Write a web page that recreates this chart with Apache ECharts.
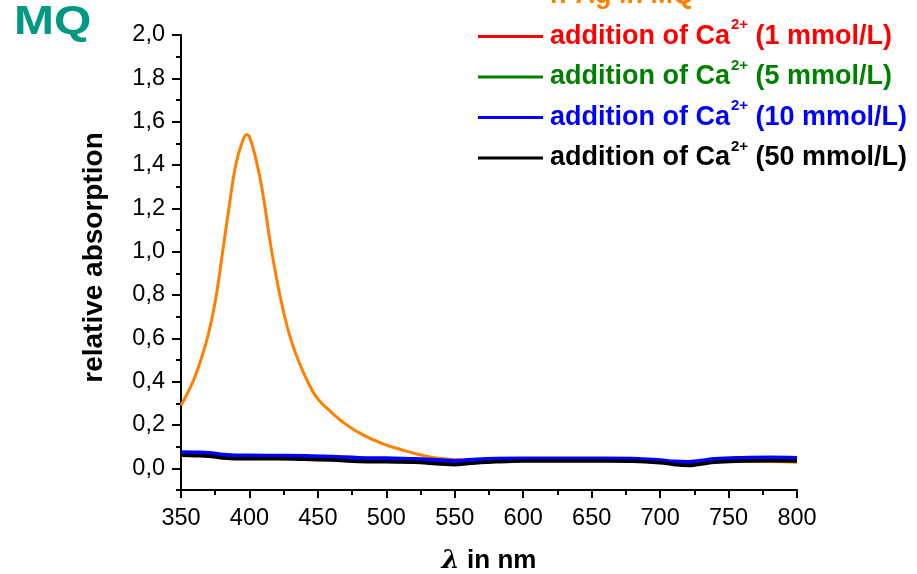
<!DOCTYPE html>
<html lang="en">
<head>
    <meta charset="UTF-8">
    <title>MQ absorption</title>
    <style>
        html, body {margin: 0; padding: 0; background: #ffffff;}
        #main {width: 917px; height: 574px;}
    </style>
</head>
<body>
<div id="main"></div>
<script src="https://cdn.jsdelivr.net/npm/echarts@6/dist/echarts.min.js"></script>
<script type="text/javascript">
// wavelengths (nm) of the silver peak curve
var agWave = [350, 355, 360, 365, 370, 375, 380, 385, 390, 395, 398, 400, 405, 410, 415, 420, 425, 430, 435, 440,
    445, 450, 460, 470, 480, 490, 500, 510, 520, 530, 540, 550, 560, 580, 600, 620, 640, 660, 680, 700,
    710, 720, 730, 740, 760, 780, 800];
var agAbs = [0.29, 0.35, 0.42, 0.51, 0.62, 0.77, 0.98, 1.20, 1.40, 1.51, 1.54, 1.53, 1.42, 1.26, 1.05, 0.87, 0.72, 0.60, 0.51, 0.435,
    0.37, 0.32, 0.258, 0.205, 0.165, 0.133, 0.107, 0.088, 0.07, 0.055, 0.045, 0.04, 0.038, 0.038, 0.037, 0.037, 0.037, 0.037, 0.036, 0.028,
    0.02, 0.016, 0.022, 0.03, 0.032, 0.032, 0.028];

// wavelengths (nm) of the Ca2+ curves
var caWave = [350, 360, 370, 380, 390, 400, 420, 440, 460, 480, 500, 520, 540, 550, 560, 580, 600, 620, 640, 660,
    680, 700, 710, 720, 730, 740, 760, 780, 800];
var ca1 = [0.063, 0.061, 0.059, 0.051, 0.047, 0.047, 0.047, 0.045, 0.041, 0.035, 0.033, 0.031, 0.023, 0.020, 0.025, 0.033, 0.037, 0.037, 0.037, 0.037,
    0.036, 0.029, 0.021, 0.016, 0.023, 0.031, 0.037, 0.038, 0.037];
var ca5 = [0.064, 0.062, 0.058, 0.050, 0.046, 0.046, 0.046, 0.044, 0.040, 0.034, 0.032, 0.030, 0.022, 0.019, 0.024, 0.032, 0.036, 0.036, 0.036, 0.036,
    0.035, 0.028, 0.020, 0.015, 0.022, 0.030, 0.036, 0.037, 0.036];
var ca10 = [0.073, 0.072, 0.070, 0.062, 0.058, 0.058, 0.057, 0.056, 0.052, 0.047, 0.045, 0.042, 0.036, 0.033, 0.037, 0.043, 0.044, 0.044, 0.044, 0.044,
    0.043, 0.036, 0.030, 0.028, 0.034, 0.042, 0.047, 0.049, 0.047];
var ca50 = [0.060, 0.058, 0.056, 0.048, 0.044, 0.044, 0.044, 0.042, 0.038, 0.032, 0.030, 0.028, 0.020, 0.017, 0.022, 0.030, 0.034, 0.034, 0.034, 0.034,
    0.033, 0.026, 0.018, 0.013, 0.020, 0.028, 0.034, 0.035, 0.034];

var yLabels = [0, 0.2, 0.4, 0.6, 0.8, 1.0, 1.2, 1.4, 1.6, 1.8, 2.0];
var yMinor = [-0.1, 0.1, 0.3, 0.5, 0.7, 0.9, 1.1, 1.3, 1.5, 1.7, 1.9];

var names = ['n-Ag in MQ', 'addition of Ca2+ (1 mmol/L)', 'addition of Ca2+ (5 mmol/L)',
    'addition of Ca2+ (10 mmol/L)', 'addition of Ca2+ (50 mmol/L)'];
var conc = ['', '1', '5', '10', '50'];
var colors = ['#ff8000', '#ff0000', '#008000', '#0000ff', '#000000'];
var keys = ['o', 'r', 'g', 'b', 'k'];

function pairs(xs, ys) {
    return xs.map(function (x, i) { return [x, ys[i]]; });
}

var rich = {};
keys.forEach(function (k, i) {
    rich[k] = {color: colors[i], fontSize: 27, fontWeight: 'bold', fontFamily: 'Liberation Sans, Arial', lineHeight: 41};
    rich[k + 's'] = {color: colors[i], fontSize: 15, fontWeight: 'bold', fontFamily: 'Liberation Sans, Arial',
        lineHeight: 15, padding: [0, 0, 23, 1]};
});
// the first (cut off) entry sits a little higher
rich.o.padding = [0, 0, 6, 0];

var chart = echarts.init(document.getElementById('main'));
chart.setOption({
    animation: false,
    graphic: [{
        type: 'text',
        left: 14,
        top: 3,
        scaleX: 1.2,
        style: {text: 'MQ', fill: '#00997f', font: 'bold 40px "Liberation Sans", Arial'}
    }],
    legend: {
        orient: 'vertical',
        left: 478,
        top: -18,
        padding: 0,
        itemGap: 2.5,
        itemWidth: 65,
        itemHeight: 3,
        icon: 'rect',
        data: names,
        formatter: function (name) {
            var i = names.indexOf(name);
            var k = keys[i];
            if (i === 0) return '{' + k + '|' + name + '}';
            return '{' + k + '|addition of Ca}{' + k + 's|2+}{' + k + '| (' + conc[i] + ' mmol/L)}';
        },
        textStyle: {rich: rich, padding: [0, 0, 0, 2]}
    },
    grid: {left: 181, right: 120, top: 35, bottom: 84, containLabel: false, outerBoundsMode: 'none'},
    xAxis: {
        type: 'value',
        min: 350,
        max: 800,
        interval: 50,
        name: '{l|λ} in nm',
        nameLocation: 'middle',
        nameGap: 58,
        nameTextStyle: {
            color: '#000', fontSize: 26, fontWeight: 'bold', fontFamily: 'Liberation Sans, Arial',
            rich: {l: {fontSize: 26, fontWeight: 'bold', fontStyle: 'italic', fontFamily: 'DejaVu Serif', color: '#000'}}
        },
        axisLine: {onZero: false, lineStyle: {color: '#000', width: 2}},
        axisTick: {length: 8, lineStyle: {color: '#000', width: 2}},
        minorTick: {show: true, splitNumber: 2, length: 5, lineStyle: {color: '#000', width: 2}},
        axisLabel: {color: '#000', fontSize: 23.5, fontFamily: 'Liberation Sans, Arial', margin: 17},
        splitLine: {show: false}
    },
    yAxis: [{
        type: 'value',
        min: -0.1,
        max: 2.0,
        position: 'left',
        name: 'relative absorption',
        nameLocation: 'middle',
        nameGap: 73,
        nameTextStyle: {color: '#000', fontSize: 28, fontWeight: 'bold', fontFamily: 'Liberation Sans, Arial',
            padding: [0, 0, 0, 10]},
        axisLine: {show: true, onZero: false, lineStyle: {color: '#000', width: 2}},
        axisTick: {show: true, length: 9, customValues: yLabels, lineStyle: {color: '#000', width: 2}},
        axisLabel: {
            color: '#000', fontSize: 23.5, fontFamily: 'Liberation Sans, Arial', margin: 16,
            customValues: yLabels,
            formatter: function (v) { return v.toFixed(1).replace('.', ','); }
        },
        splitLine: {show: false}
    }, {
        type: 'value',
        min: -0.1,
        max: 2.0,
        position: 'left',
        axisLine: {show: false, onZero: false},
        axisTick: {show: true, length: 5, customValues: yMinor, lineStyle: {color: '#000', width: 2}},
        axisLabel: {show: false, customValues: yMinor},
        splitLine: {show: false}
    }],
    series: [
        {name: names[0], type: 'line', data: pairs(agWave, agAbs), showSymbol: false, smooth: 0.5,
            lineStyle: {color: colors[0], width: 3}, itemStyle: {color: colors[0]}},
        {name: names[1], type: 'line', data: pairs(caWave, ca1), showSymbol: false, smooth: 0.4,
            lineStyle: {color: colors[1], width: 3}, itemStyle: {color: colors[1]}},
        {name: names[2], type: 'line', data: pairs(caWave, ca5), showSymbol: false, smooth: 0.4,
            lineStyle: {color: colors[2], width: 3}, itemStyle: {color: colors[2]}},
        {name: names[3], type: 'line', data: pairs(caWave, ca10), showSymbol: false, smooth: 0.4,
            lineStyle: {color: colors[3], width: 4.5}, itemStyle: {color: colors[3]}},
        {name: names[4], type: 'line', data: pairs(caWave, ca50), showSymbol: false, smooth: 0.4,
            lineStyle: {color: colors[4], width: 3.5}, itemStyle: {color: colors[4]}}
    ]
});
</script>
</body>
</html>
